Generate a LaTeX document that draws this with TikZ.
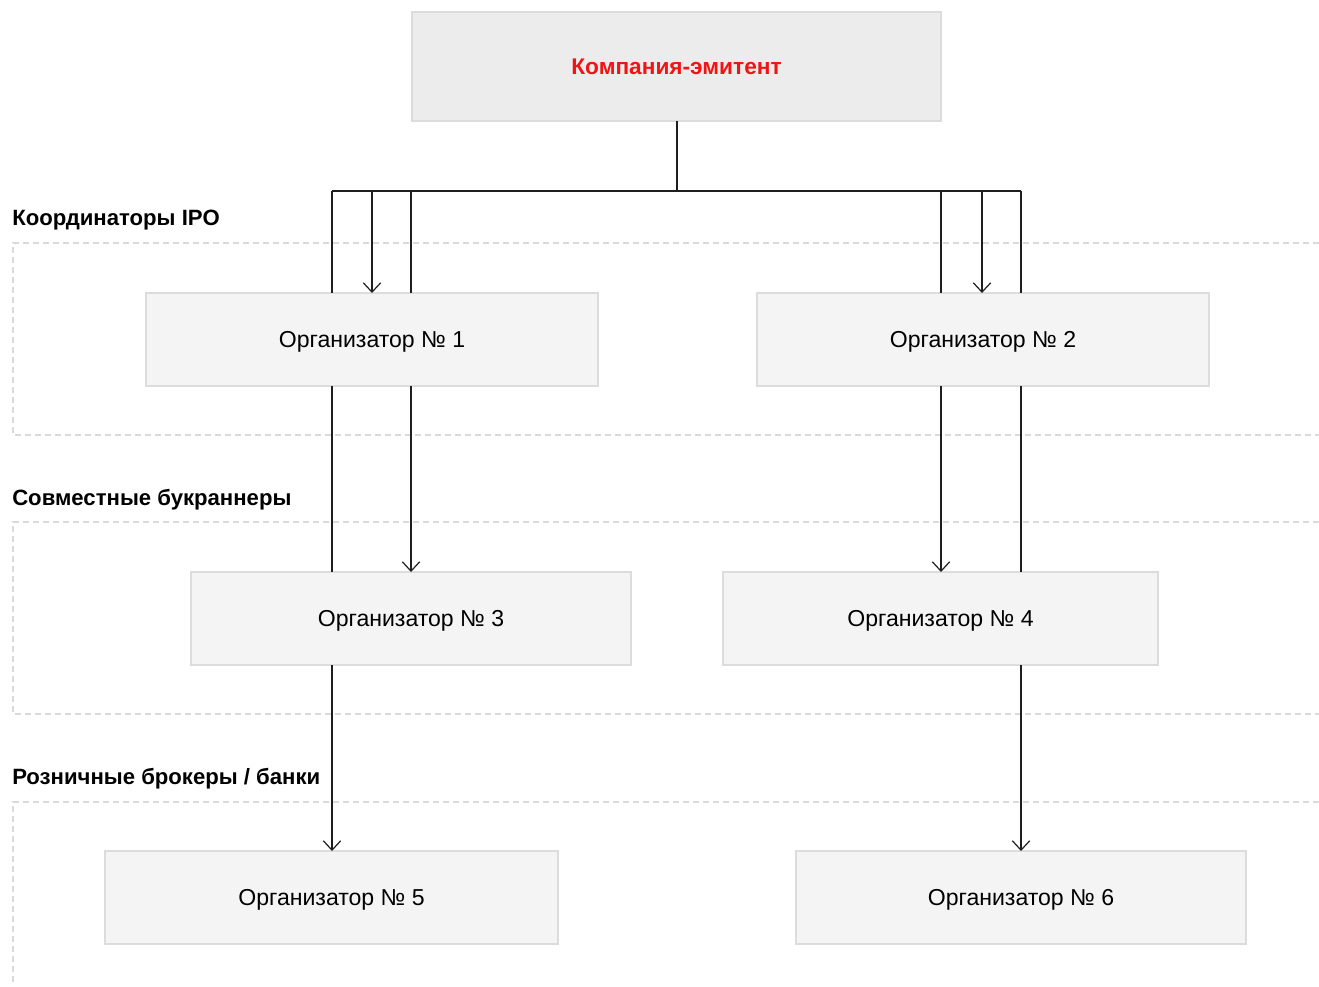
\documentclass[tikz,border=0pt]{standalone}
\usepackage{fontspec}
\setmainfont{Liberation Sans}
\usepackage{xcolor}
\definecolor{emitred}{RGB}{240,20,20}
\definecolor{boxfill}{RGB}{244,244,244}
\definecolor{topfill}{RGB}{236,236,236}
\definecolor{boxline}{RGB}{220,220,220}
\definecolor{bandline}{RGB}{218,218,218}
\definecolor{linkcol}{RGB}{30,30,30}
\usepackage{tikz}
\usetikzlibrary{arrows.meta,positioning,calc}
\tikzset{
  orgbox/.style={rectangle, draw=boxline, fill=boxfill, line width=0.9pt,
                 minimum width=#1, minimum height=69.75pt, inner sep=0pt,
                 outer sep=0pt, text depth=0pt, font=\fontsize{17.3}{20}\selectfont},
  topbox/.style={rectangle, draw=boxline, fill=topfill, line width=0.9pt,
                 minimum width=396.75pt, minimum height=81.75pt, inner sep=0pt,
                 outer sep=0pt, text depth=0pt, text=emitred,
                 font=\fontsize{17}{20}\selectfont\bfseries},
  tierlabel/.style={anchor=base west, inner sep=0pt, font=\fontsize{16.6}{19}\selectfont\bfseries},
  band/.style={draw=bandline, line width=0.9pt, dash pattern=on 4.5pt off 3pt},
  link/.style={draw=linkcol, line width=0.9pt},
  arr/.style={link, -{Straight Barb[length=7pt,width=13pt]}},
}

\begin{document}
\begin{tikzpicture}[x=0.75pt,y=-0.75pt]
  \useasboundingbox (0,0) rectangle (1319,986);
  % Dashed tier bands
  \draw[band] (1319,243) -- (13,243) -- (13,435) -- (1319,435);
  \draw[band] (1319,522) -- (13,522) -- (13,714) -- (1319,714);
  \draw[band] (1319,802) -- (13,802) -- (13,986);
  % Tier labels
  \node[tierlabel] (tier1) at (12,225) {Координаторы IPO};
  \node[tierlabel] (tier2) at (12,505) {Совместные букраннеры};
  \node[tierlabel] (tier3) at (12,784) {Розничные брокеры / банки};
  % Boxes
  \node[topbox] (emit) at (676.5,66.5) {Компания-эмитент};
  \node[orgbox=339pt] (org1) at (372,339.5) {Организатор № 1};
  \node[orgbox=339pt] (org2) at (983,339.5) {Организатор № 2};
  \node[orgbox=330pt] (org3) at (411,618.5) {Организатор № 3};
  \node[orgbox=326.25pt] (org4) at (940.5,618.5) {Организатор № 4};
  \node[orgbox=339.75pt] (org5) at (331.5,897.5) {Организатор № 5};
  \node[orgbox=337.5pt] (org6) at (1021,897.5) {Организатор № 6};
  % Split bar under the issuer
  \coordinate (split) at (677,191);
  \coordinate (a1) at (332,191);
  \coordinate (a2) at (372,191);
  \coordinate (a3) at (411,191);
  \coordinate (b1) at (941,191);
  \coordinate (b2) at (982,191);
  \coordinate (b3) at (1021,191);
  \draw[link] (split |- emit.south) -- (split);
  \draw[link] (a1) -- (b3);
  % Down to the coordinators
  \draw[link] (a1) -- (a1 |- org1.north);
  \draw[arr] (a2) -- (a2 |- org1.north);
  \draw[link] (a3) -- (a3 |- org1.north);
  \draw[link] (b1) -- (b1 |- org2.north);
  \draw[arr] (b2) -- (b2 |- org2.north);
  \draw[link] (b3) -- (b3 |- org2.north);
  % Down to the bookrunners
  \draw[link] (a1 |- org1.south) -- (a1 |- org3.north);
  \draw[arr] (a3 |- org1.south) -- (a3 |- org3.north);
  \draw[arr] (b1 |- org2.south) -- (b1 |- org4.north);
  \draw[link] (b3 |- org2.south) -- (b3 |- org4.north);
  % Down to the retail brokers
  \draw[arr] (a1 |- org3.south) -- (a1 |- org5.north);
  \draw[arr] (b3 |- org4.south) -- (b3 |- org6.north);
\end{tikzpicture}
\end{document}
